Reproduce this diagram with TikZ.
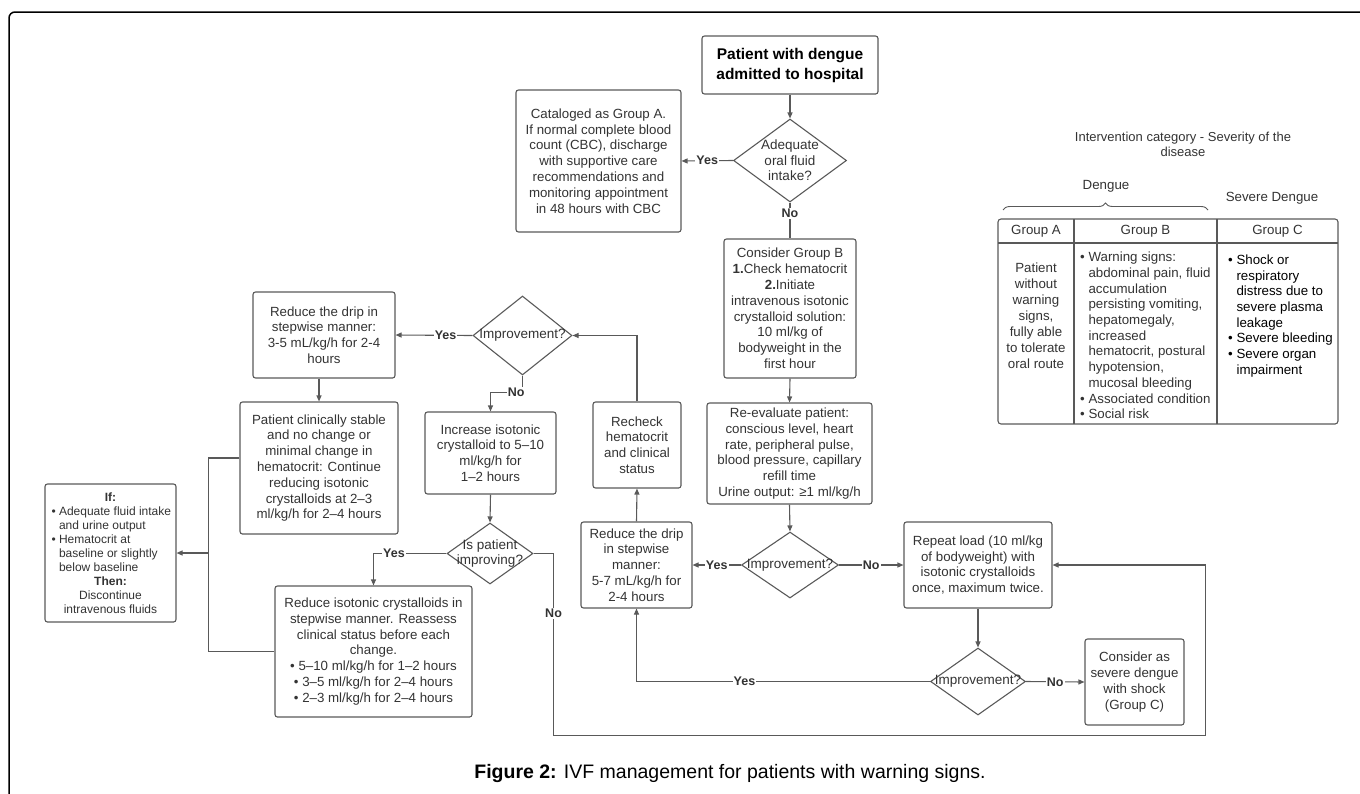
\documentclass[tikz,border=0pt]{standalone}
\usepackage{fontspec}
\setmainfont{Liberation Sans}
\usetikzlibrary{arrows.meta,shapes.geometric,decorations.pathreplacing,calc}
\begin{document}
\begin{tikzpicture}[x=1pt,y=-1pt,
  every node/.style={text=black!80},
  box/.style={draw=black!65, line width=1.1pt, rounded corners=2.5pt, align=center, inner sep=0pt, font=\fontsize{13.3}{15.8}\selectfont},
  dia/.style={draw=black!65, line width=1.1pt, shape=diamond, inner sep=0pt},
  dtxt/.style={align=center, inner sep=0pt, font=\fontsize{13.5}{15.6}\selectfont},
  conn/.style={draw=black!65, line width=1.1pt},
  arr/.style={conn, -{Triangle[length=6pt,width=5pt]}},
  lab/.style={fill=white, inner sep=1pt, font=\bfseries\fontsize{12.5}{14}\selectfont},
  txt/.style={inner sep=0pt, font=\fontsize{13.3}{15.7}\selectfont},
]
\useasboundingbox (0,0) rectangle (1360,793);
% outer frame
\draw[black, line width=1.5pt, rounded corners=6pt] (9,800) -- (9,12) -- (1370,12);

% nodes
\node[box, minimum width=176pt, minimum height=58pt, font=\bfseries\fontsize{15.5}{20}\selectfont, text=black] (start) at (790,65) {Patient with dengue\\admitted to hospital};
\node[dia, minimum width=113pt, minimum height=83pt] (d1) at (790,160.5) {};
\node[dtxt] at (d1) {Adequate\\oral fluid\\intake?};
\node[box, minimum width=165pt, minimum height=142pt] (catA) at (598.5,161) {Cataloged as Group A.\\If normal complete blood\\count (CBC), discharge\\with supportive care\\recommendations and\\monitoring appointment\\in 48 hours with CBC};
\node[box, minimum width=132pt, minimum height=139pt] (grpB) at (790,308.5) {Consider Group B\\\textbf{1.}Check hematocrit\\\textbf{2.}Initiate\\intravenous isotonic\\crystalloid solution:\\10 ml/kg of\\bodyweight in the\\first hour};
\node[box, minimum width=165pt, minimum height=101pt] (reeval) at (789.5,453.5) {Re-evaluate patient:\\conscious level, heart\\rate, peripheral pulse,\\blood pressure, capillary\\refill time\\Urine output: ≥1 ml/kg/h};
\node[dia, minimum width=97pt, minimum height=66pt] (d2) at (790,565) {};
\node[dtxt] at (d2) {Improvement?};
\node[box, minimum width=111pt, minimum height=86pt] (drip57) at (636.5,565) {Reduce the drip\\in stepwise\\manner:\\5-7 mL/kg/h for\\2-4 hours};
\node[box, minimum width=148pt, minimum height=86pt] (repeat) at (978,565) {Repeat load (10 ml/kg\\of bodyweight) with\\isotonic crystalloids\\once, maximum twice.};
\node[dia, minimum width=95pt, minimum height=67pt] (d3) at (978,681.5) {};
\node[dtxt] at (d3) {Improvement?};
\node[box, minimum width=99pt, minimum height=86pt] (severe) at (1134.5,682) {Consider as\\severe dengue\\with shock\\(Group C)};
\node[box, minimum width=88pt, minimum height=86pt] (recheck) at (637,445) {Recheck\\hematocrit\\and clinical\\status};
\node[dia, minimum width=99pt, minimum height=79pt] (d4) at (522.5,335.5) {};
\node[dtxt] at (d4) {Improvement?};
\node[box, minimum width=142pt, minimum height=86pt] (drip35) at (324,335) {Reduce the drip in\\stepwise manner:\\3-5 mL/kg/h for 2-4\\hours};
\node[box, minimum width=131pt, minimum height=82pt] (increase) at (490.5,453) {Increase isotonic\\crystalloid to 5–10\\ml/kg/h for\\1–2 hours};
\node[box, minimum width=158pt, minimum height=132pt] (stable) at (319,468) {Patient clinically stable\\and no change or\\minimal change in\\hematocrit: Continue\\reducing isotonic\\crystalloids at 2–3\\ml/kg/h for 2–4 hours};
\node[dia, minimum width=86pt, minimum height=61pt] (d5) at (490,553.5) {};
\node[dtxt] at (d5) {Is patient\\improving?};
\node[box, minimum width=197pt, minimum height=131pt] (reduceIso) at (373.5,651.5) {Reduce isotonic crystalloids in\\stepwise manner. Reassess\\clinical status before each\\change.\\• 5–10 ml/kg/h for 1–2 hours\\• 3–5 ml/kg/h for 2–4 hours\\• 2–3 ml/kg/h for 2–4 hours};
\node[box, minimum width=131pt, minimum height=138pt, font=\fontsize{12}{14}\selectfont] (ifbox) at (110.5,553) {\textbf{If:}\\
\makebox[118pt][l]{• Adequate fluid intake}\\
\makebox[118pt][l]{\phantom{• }and urine output}\\
\makebox[118pt][l]{• Hematocrit at}\\
\makebox[118pt][l]{\phantom{• }baseline or slightly}\\
\makebox[118pt][l]{\phantom{• }below baseline}\\
\textbf{Then:}\\
Discontinue\\intravenous fluids};

% connectors
\draw[arr] (start.south) -- (d1.north);
\draw[arr] (d1.west) -- node[lab]{Yes} (catA.east);
\draw[conn] (d1.south) -- node[lab,pos=0.3]{No} (grpB.north);
\draw[arr] (grpB.south) -- (reeval.north);
\draw[arr] (reeval.south) -- (d2.north);
\draw[arr] (d2.west) -- node[lab]{Yes} (drip57.east);
\draw[arr] (d2.east) -- node[lab]{No} (repeat.west);
\draw[arr] (repeat.south) -- (d3.north);
\draw[arr] (d3.east) -- node[lab]{No} (severe.west);
\draw[arr] (d3.west) -| node[lab,pos=0.316]{Yes} (drip57.south);
\draw[arr] (drip57.north) -- (recheck.south);
\draw[arr] (recheck.north) |- (d4.east);
\draw[arr] (d4.west) -- node[lab,pos=0.35]{Yes} (drip35.east);
\draw[arr] (d4.south) -- ++(0,17) -| node[lab,pos=0.1]{No} (increase.north);
\draw[arr] (stable.north |- drip35.south) -- (stable.north);
\draw[arr] (increase.south) -- (d5.north);
\draw[arr] (d5.west) -| node[lab,pos=0.36]{Yes} (reduceIso.north);
\draw[arr] (d5.east) -- ++(20,0) -- node[lab,pos=0.33]{No} ++(0,182) -- ++(652,0) |- (repeat.east);
\draw[conn] ([yshift=10pt]stable.west) -- ++(-31,0) coordinate (bk1) -- (bk1 |- reduceIso.west) -- (reduceIso.west);
\draw[arr] (bk1 |- ifbox.east) -- (ifbox.east);

% legend table
\node[txt, font=\fontsize{13}{15}\selectfont, align=center] (ttl) at (1183,144.5) {Intervention category - Severity of the\\disease};
\node[txt] (dg) at (1106,186) {Dengue};
\node[txt] (sdg) at (1272,198) {Severe Dengue};
\draw[conn, line width=0.9pt, decorate, decoration={brace, amplitude=7pt}] (1003,210) -- (1208,210);
\draw[conn, rounded corners=3pt] (998,219) rectangle (1338,424);
\draw[conn] (998,243) -- (1338,243);
\draw[conn] (1074,219) -- (1074,424);
\draw[conn] (1217,219) -- (1217,424);
\node[txt] (ha) at (1036,231) {Group A};
\node[txt] (hb) at (1145.5,231) {Group B};
\node[txt] (hc) at (1277.5,231) {Group C};
\node[txt, align=center, font=\fontsize{13.3}{16}\selectfont] (ba) at (1036,316) {Patient\\without\\warning\\signs,\\fully able\\to tolerate\\oral route};
\node[txt, align=left, anchor=west] (bb) at (1080,335.5) {• Warning signs:\\\phantom{• }abdominal pain, fluid\\\phantom{• }accumulation\\\phantom{• }persisting vomiting,\\\phantom{• }hepatomegaly,\\\phantom{• }increased\\\phantom{• }hematocrit, postural\\\phantom{• }hypotension,\\\phantom{• }mucosal bleeding\\• Associated condition\\• Social risk};
\node[txt, align=left, anchor=west, text=black] (bc) at (1228,316) {• Shock or\\\phantom{• }respiratory\\\phantom{• }distress due to\\\phantom{• }severe plasma\\\phantom{• }leakage\\• Severe bleeding\\• Severe organ\\\phantom{• }impairment};

% caption
\node[inner sep=0pt, font=\fontsize{19.5}{22}\selectfont, text=black] (cap) at (730,773) {\textbf{Figure 2:} IVF management for patients with warning signs.};
\end{tikzpicture}
\end{document}
